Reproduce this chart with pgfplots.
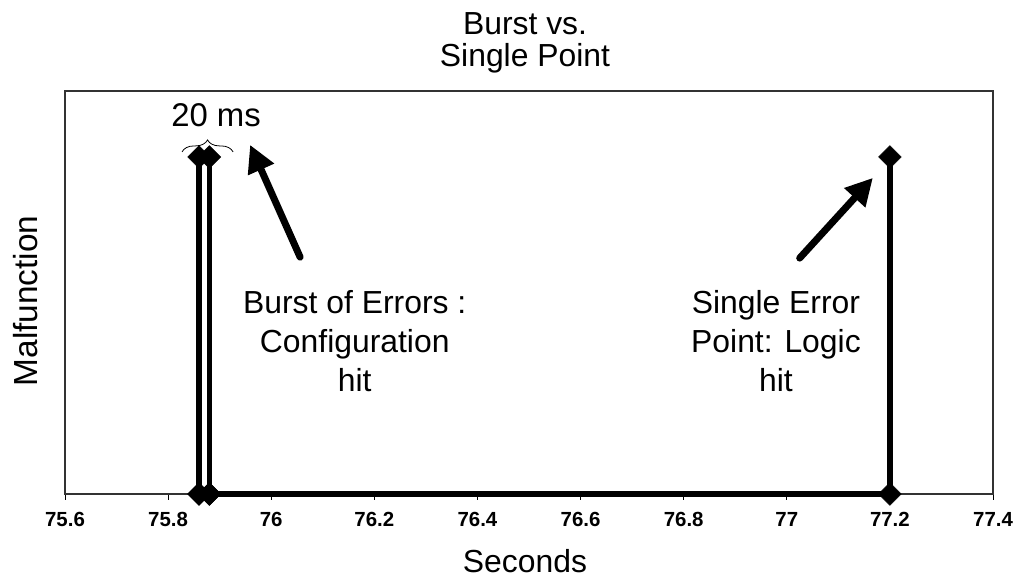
\documentclass[border=0pt]{standalone}
\usepackage{pgfplots}
\pgfplotsset{compat=1.18}
\usepackage{fontspec}
\setmainfont{Liberation Sans}
\usetikzlibrary{arrows.meta,decorations.pathreplacing}
\begin{document}
\begin{tikzpicture}[x=1bp,y=1bp]
\path[use as bounding box] (0,0) rectangle (1013,580);
\begin{axis}[
  at={(65bp,86bp)}, anchor=south west,
  scale only axis, width=928bp, height=403bp,
  xmin=75.6, xmax=77.4, ymin=0, ymax=1.1958,
  xtick={75.6,75.8,76,76.2,76.4,76.6,76.8,77,77.2,77.4},
  ytick=\empty,
  tick align=outside, xtick pos=left,
  major tick length=6bp,
  every tick/.style={black, line width=1bp},
  axis line style={black!80, line width=1.2bp},
  clip=false,
  /pgf/number format/assume math mode=true,
  /pgf/number format/fixed,
  xticklabel style={font=\fontsize{20.5}{21}\selectfont\bfseries, inner sep=0pt, anchor=north, yshift=-12bp},
  title={Burst vs.\\Single Point},
  every axis title/.style={at={(axis description cs:0.4957,1.196)}, anchor=north, inner sep=0pt, align=center, font=\fontsize{32}{32}\selectfont},
  xlabel={Seconds},
  every axis x label/.style={at={(axis description cs:0.4957,-0.1365)}, anchor=north, inner sep=0pt, font=\fontsize{32}{36}\selectfont},
  ylabel={Malfunction},
  every axis y label/.style={at={(axis description cs:-0.0291,0.479)}, rotate=90, anchor=base, inner sep=0pt, font=\fontsize{33.5}{36}\selectfont},
]
\addplot[black, line width=5.5bp, mark=square*, mark size=8bp,
  mark options={rotate=45, solid, line width=0.5bp}]
  coordinates {(75.86,0) (75.86,1) (75.86,0) (75.88,0) (75.88,1) (75.88,0) (77.2,0) (77.2,1)};
\draw[line width=7bp, line cap=round, -{Triangle[length=27bp,width=27bp]}]
  (axis cs:76.056,0.703) -- (axis cs:75.959,1.036);
\draw[line width=7bp, line cap=round, -{Triangle[length=27bp,width=27bp]}]
  (axis cs:77.025,0.700) -- (axis cs:77.167,0.938);
\draw[decorate, decoration={brace, amplitude=12bp}, line width=0.8bp]
  (axis cs:75.827,1.015) -- (axis cs:75.926,1.015);
\node[anchor=base, inner sep=0pt, font=\fontsize{33}{36}\selectfont] at (axis cs:75.893,1.089) {20 ms};
\node[anchor=north, align=center, inner sep=0pt, font=\fontsize{32}{39}\selectfont]
  at (axis cs:76.162,0.605) {Burst of Errors :\\Configuration\\hit};
\node[anchor=north, align=center, inner sep=0pt, font=\fontsize{32}{39}\selectfont]
  at (axis cs:76.979,0.605) {Single Error\\Point: Logic\\hit};
\end{axis}
\end{tikzpicture}
\end{document}
